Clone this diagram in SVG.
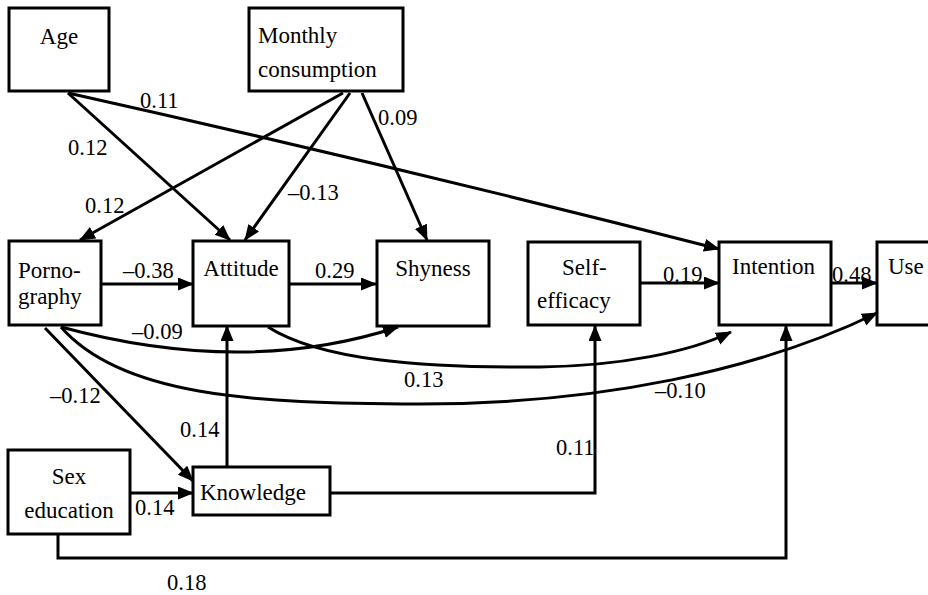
<svg xmlns="http://www.w3.org/2000/svg" width="928" height="595" viewBox="0 0 928 595" font-family="'Liberation Serif', 'DejaVu Serif', serif">
<style>
.box{fill:#fff;stroke:#000;stroke-width:3}
text{font-family:'Liberation Serif','DejaVu Serif',serif;font-size:23px;fill:#000}
.lbl{font-size:22.5px}
.c{fill:none;stroke:#000;stroke-width:3}
</style>
<defs>
<marker id="ah" markerUnits="userSpaceOnUse" markerWidth="16" markerHeight="14" refX="15" refY="6.5" orient="auto">
<path d="M0,0 L16,6.5 L0,13 z" fill="#000"/>
</marker>
</defs>
<rect width="928" height="595" fill="#fff"/>
<g id="connectors">
<path class="c" d="M68,93 L230,240" marker-end="url(#ah)"/>
<path class="c" d="M68,93 Q395,166 719,249" marker-end="url(#ah)"/>
<path class="c" d="M343,93 L80,240" marker-end="url(#ah)"/>
<path class="c" d="M350,93 L245,240" marker-end="url(#ah)"/>
<path class="c" d="M362,93 L427,240" marker-end="url(#ah)"/>
<path class="c" d="M102,284 L193,284" marker-end="url(#ah)"/>
<path class="c" d="M289,284 L376,284" marker-end="url(#ah)"/>
<path class="c" d="M640,283 L719,283" marker-end="url(#ah)"/>
<path class="c" d="M831,283 L877,283" marker-end="url(#ah)"/>
<path class="c" d="M61,327 Q245,377 398,327" marker-end="url(#ah)"/>
<path class="c" d="M268,327 C320,360 420,368 540,367 C620,366 690,352 731,332" marker-end="url(#ah)"/>
<path class="c" d="M61,327 C120,395 250,404 420,404 C600,404 760,370 877,313" marker-end="url(#ah)"/>
<path class="c" d="M45,328 L193,481" marker-end="url(#ah)"/>
<path class="c" d="M130,493 L193,493" marker-end="url(#ah)"/>
<path class="c" d="M227,467 L227,326" marker-end="url(#ah)"/>
<path class="c" d="M330,493 L595,493 L595,326" marker-end="url(#ah)"/>
<path class="c" d="M58,534 L58,558 L786,558 L786,326" marker-end="url(#ah)"/>
</g>
<g id="age"><rect class="box" x="9" y="8" width="100" height="83"/><text x="59" y="44" text-anchor="middle">Age</text></g>
<g id="monthly"><rect class="box" x="249" y="8" width="154" height="83"/><text x="258" y="43" fill="#222">Monthly</text><text x="258" y="77" fill="#222">consumption</text></g>
<g id="pornography"><rect class="box" x="9" y="241" width="92" height="84"/><text x="18" y="278">Porno-</text><text x="18" y="304">graphy</text></g>
<g id="attitude"><rect class="box" x="193" y="241" width="96" height="85"/><text x="241" y="276" text-anchor="middle">Attitude</text></g>
<g id="shyness"><rect class="box" x="377" y="241" width="112" height="85"/><text x="433" y="276" text-anchor="middle">Shyness</text></g>
<g id="selfefficacy"><rect class="box" x="528" y="242" width="112" height="83"/><text x="562" y="275">Self-</text><text x="537" y="308">efficacy</text></g>
<g id="intention"><rect class="box" x="719" y="242" width="112" height="83"/><text x="732" y="274">Intention</text></g>
<g id="use"><rect class="box" x="877" y="242" width="60" height="83"/><text x="888" y="274">Use</text></g>
<g id="sexeducation"><rect class="box" x="8" y="450" width="122" height="84"/><text x="69" y="484" text-anchor="middle">Sex</text><text x="69" y="518" text-anchor="middle">education</text></g>
<g id="knowledge"><rect class="box" x="193" y="467" width="137" height="48"/><text x="200" y="500">Knowledge</text></g>
<g id="labels">
<text class="lbl" x="140" y="108">0.11</text>
<text class="lbl" x="68" y="155">0.12</text>
<text class="lbl" x="85" y="213">0.12</text>
<text class="lbl" x="288" y="200">–0.13</text>
<text class="lbl" x="378" y="125">0.09</text>
<text class="lbl" x="123" y="278">–0.38</text>
<text class="lbl" x="315" y="278">0.29</text>
<text class="lbl" x="663" y="282">0.19</text>
<text class="lbl" x="832" y="282">0.48</text>
<text class="lbl" x="132" y="339">–0.09</text>
<text class="lbl" x="404" y="387">0.13</text>
<text class="lbl" x="655" y="398">–0.10</text>
<text class="lbl" x="50" y="403">–0.12</text>
<text class="lbl" x="180" y="437">0.14</text>
<text class="lbl" x="135" y="515">0.14</text>
<text class="lbl" x="556" y="455">0.11</text>
<text class="lbl" x="167" y="590">0.18</text>
</g>
</svg>
